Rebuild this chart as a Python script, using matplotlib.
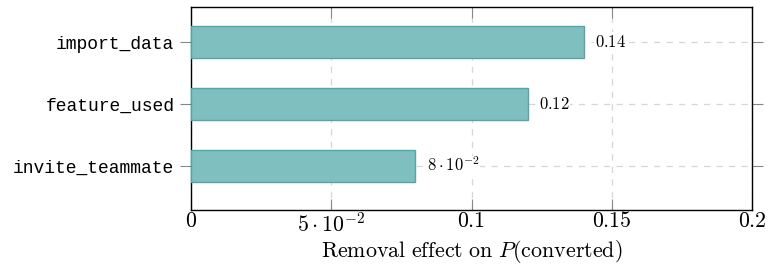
import matplotlib

matplotlib.use("Agg")
import matplotlib.pyplot as plt

events = ["invite_teammate", "feature_used", "import_data"]
removal_effect = [0.08, 0.12, 0.14]
value_labels = [r"$8\cdot10^{-2}$", r"$0.12$", r"$0.14$"]
xticks = [0, 0.05, 0.1, 0.15, 0.2]
xtick_labels = [r"$0$", r"$5\cdot10^{-2}$", r"$0.1$", r"$0.15$", r"$0.2$"]

plt.rcParams["mathtext.fontset"] = "cm"

fig = plt.figure(figsize=(7.71, 2.72), dpi=100)
ax = fig.add_axes([0.2477, 0.228, 0.9754 - 0.2477, 0.9743 - 0.228])

ypos = list(range(len(events)))
ax.barh(ypos, removal_effect, height=0.52, color="#80bfbf",
        edgecolor="#4fa8a8", linewidth=1.0, zorder=3)
for y, v, lab in zip(ypos, removal_effect, value_labels):
    ax.text(v + 0.004, y, lab, va="center", ha="left", fontsize=12, zorder=4,
            bbox=dict(facecolor="white", edgecolor="none", pad=0.5))

ax.set_xlim(0, 0.2)
ax.set_ylim(-0.71, 2.565)
ax.set_xticks(xticks)
ax.set_xticklabels(xtick_labels, fontsize=15.7)
ax.set_yticks(ypos)
ax.set_yticklabels(events, family="Liberation Mono", fontsize=13.0)

ax.tick_params(axis="x", direction="in", top=True, length=8, color="#888888", pad=1)
ax.tick_params(axis="y", direction="out", right=True, length=8, color="#888888", pad=4)
ax.grid(True, linestyle=(0, (5, 5)), color="#d6d6d6", linewidth=0.9, zorder=0)
ax.set_axisbelow(True)
for s in ax.spines.values():
    s.set_linewidth(1.0)

ax.set_xlabel(r"$\mathrm{Removal\ effect\ on\ }P(\mathrm{converted})$", fontsize=15.8, labelpad=2)

fig.savefig("out.png", dpi=100)
plt.close(fig)
